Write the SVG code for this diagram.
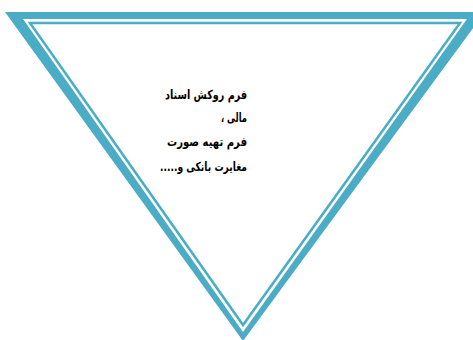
<svg xmlns="http://www.w3.org/2000/svg" width="473" height="340" viewBox="0 0 473 340">
<style>
.band{fill:#4BACC6;fill-rule:evenodd}
.thin{fill:none;stroke:#4BACC6;stroke-width:2.5}
.t{font-family:"DejaVu Sans","Noto Sans",sans-serif;font-weight:bold;font-size:12.5px;fill:#000;direction:rtl}
</style>
<rect width="473" height="340" fill="#fff"/>
<g id="triangle">
<path class="band" d="M5,12 L485,12 L243,341 Z M23,19 L243,332 L467,19 Z"/>
<polygon class="thin" points="30,23 460,23 243,325"/>
</g>
<g id="connectors"></g>
<g id="label">
<text class="t" x="247" y="99" text-anchor="start" textLength="82" lengthAdjust="spacingAndGlyphs">فرم روکش اسناد</text>
<text class="t" x="247" y="122" text-anchor="start" textLength="26" lengthAdjust="spacingAndGlyphs">مالی ،</text>
<text class="t" x="247" y="146" text-anchor="start" textLength="80" lengthAdjust="spacingAndGlyphs">فرم تهیه صورت</text>
<text class="t" x="247" y="171" text-anchor="start" textLength="87" lengthAdjust="spacingAndGlyphs">مغایرت بانکی و.....</text>
</g>
</svg>
